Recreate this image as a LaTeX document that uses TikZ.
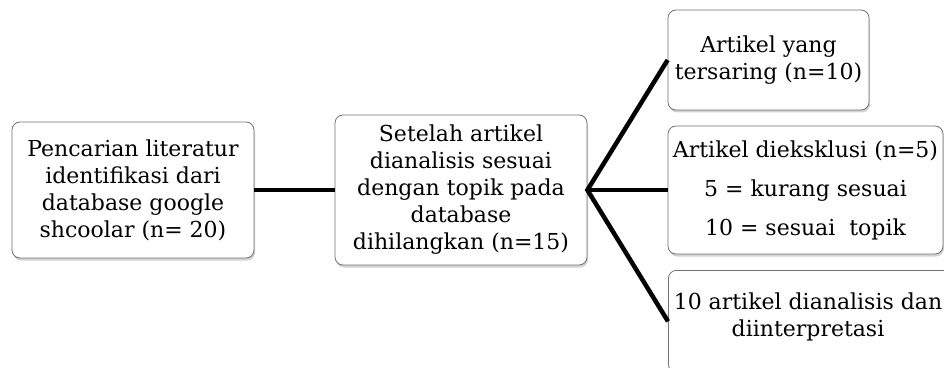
\documentclass[tikz,border=0pt]{standalone}
\usepackage{fontspec}
\setmainfont{DejaVu Serif}
\usetikzlibrary{shadows}
\begin{document}
\begin{tikzpicture}[x=1pt,y=1pt,
  box/.style={draw=black!55, line width=0.8pt, rounded corners=8pt, fill=white,
    drop shadow={opacity=0.35, shadow xshift=1pt, shadow yshift=-2.5pt},
    inner sep=0pt, align=center, font=\fontsize{22}{27}\selectfont},
  plain/.style={inner sep=0pt, align=center, font=\fontsize{22}{27}\selectfont},
  conn/.style={line width=4.5pt}]
\clip (0,0) rectangle (944,367);
\fill[white] (0,0) rectangle (944,367);
\node[box, minimum width=242pt, minimum height=136pt] (b1) at (133,177)
  {Pencarian literatur\\identifikasi dari\\database google\\shcoolar (n= 20)};
\node[box, minimum width=252pt, minimum height=150pt] (b2) at (461,177)
  {Setelah artikel\\dianalisis sesuai\\dengan topik pada\\database\\dihilangkan (n=15)};
\node[box, minimum width=201pt, minimum height=100pt] (b3) at (768.5,307)
  {Artikel yang\\tersaring (n=10)};
\node[box, minimum width=275pt, minimum height=128pt] (b4) at (805.5,177)
  {Artikel dieksklusi (n=5)\\[12pt]5 = kurang sesuai\\[12pt]10 = sesuai\ \ topik};
\node[box, minimum width=300pt, minimum height=102pt, anchor=north west] (b5) at (668,97) {};
\node[plain] (t5) at (808,50) {10 artikel dianalisis dan\\diinterpretasi};
\draw[conn] (b1.east) -- (b2.west);
\coordinate (br) at (b2.east);
\draw[conn] (b3.west) -- (br) -- (b5.west);
\draw[conn] (br) -- (b4.west);
\end{tikzpicture}
\end{document}
